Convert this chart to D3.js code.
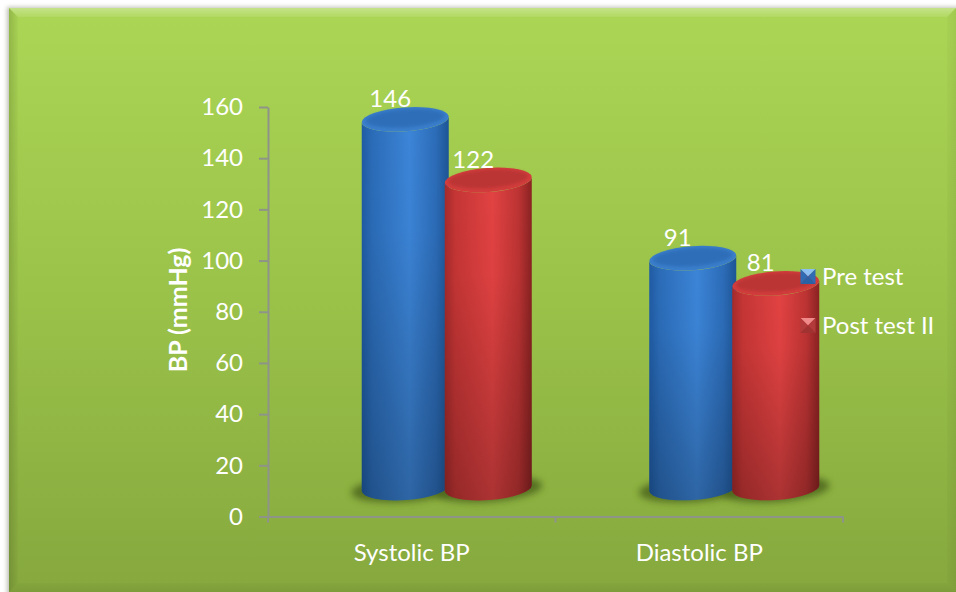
<!DOCTYPE html>
<html>
<head>
<meta charset="utf-8">
<script src="https://cdn.jsdelivr.net/npm/d3@7"></script>
<style>
html, body { margin: 0; padding: 0; background: #fff; }
svg { display: block; }
text { font-family: Lato, "Open Sans", sans-serif; fill: #fff; }
</style>
</head>
<body>
<div id="chart"></div>
<script>
var categories = ["Systolic BP", "Diastolic BP"];
var seriesNames = ["Pre test", "Post test II"];
var preTest = [146, 91];
var postTest = [122, 81];
var yTicks = [0, 20, 40, 60, 80, 100, 120, 140, 160];

var W = 956, H = 592;

var svg = d3.select("#chart").append("svg")
    .attr("width", W)
    .attr("height", H);

var defs = svg.append("defs");

function gradient(id, x2, y2, stops) {
    var g = defs.append("linearGradient")
        .attr("id", id)
        .attr("x1", 0).attr("y1", 0)
        .attr("x2", x2).attr("y2", y2);
    stops.forEach(function(s) {
        g.append("stop")
            .attr("offset", s[0])
            .attr("stop-color", s[1])
            .attr("stop-opacity", s[2] === undefined ? 1 : s[2]);
    });
}

gradient("panelFill", 0, 1, [[0, "#abd655"], [0.5, "#9ac249"], [1, "#86a83e"]]);
gradient("bevelTop", 0, 1, [[0, "#fff", 0.3], [1, "#fff", 0.08]]);
gradient("bevelLeft", 1, 0, [[0, "#000", 0.14], [1, "#000", 0.02]]);
gradient("bevelRight", 1, 0, [[0, "#000", 0.02], [1, "#000", 0.06]]);
gradient("bevelBottom", 0, 1, [[0, "#000", 0.02], [1, "#000", 0.07]]);

// side shading of each cylinder, dark at both edges
gradient("sideBlue", 1, 0, [[0, "#1f5ba3"], [0.12, "#2b6cb8"], [0.55, "#3c85d8"], [0.85, "#2c6cb8"], [1, "#1d5595"]]);
gradient("sideRed", 1, 0, [[0, "#a52a2a"], [0.12, "#c53535"], [0.55, "#e24242"], [0.85, "#bd3333"], [1, "#8a2222"]]);
gradient("sideFade", 0, 1, [[0, "#000", 0], [0.3, "#000", 0.02], [1, "#000", 0.24]]);

var blur = defs.append("filter").attr("id", "soft")
    .attr("x", "-30%").attr("y", "-60%").attr("width", "160%").attr("height", "220%");
blur.append("feGaussianBlur").attr("stdDeviation", 3.5);
var blurSmall = defs.append("filter").attr("id", "softer")
    .attr("x", "-20%").attr("y", "-40%").attr("width", "140%").attr("height", "180%");
blurSmall.append("feGaussianBlur").attr("stdDeviation", 1.8);
var blurEdge = defs.append("filter").attr("id", "edge")
    .attr("x", "-5%").attr("y", "-5%").attr("width", "110%").attr("height", "110%");
blurEdge.append("feGaussianBlur").attr("stdDeviation", 2);

// background panel with bevelled edges
var px0 = 9, py0 = 8, bevel = 9;
svg.append("rect")
    .attr("x", px0 - 2).attr("y", py0 - 1)
    .attr("width", W).attr("height", H)
    .attr("fill", "#6f6f60").attr("opacity", 0.45)
    .attr("filter", "url(#edge)");
svg.append("rect")
    .attr("x", px0).attr("y", py0)
    .attr("width", W - px0).attr("height", H - py0)
    .attr("fill", "url(#panelFill)");

var bevels = [
    ["bevelTop", [[px0, py0], [W, py0], [W - bevel, py0 + bevel], [px0 + bevel, py0 + bevel]]],
    ["bevelLeft", [[px0, py0], [px0 + bevel, py0 + bevel], [px0 + bevel, H - bevel], [px0, H]]],
    ["bevelRight", [[W, py0], [W, H], [W - bevel, H - bevel], [W - bevel, py0 + bevel]]],
    ["bevelBottom", [[px0, H], [px0 + bevel, H - bevel], [W - bevel, H - bevel], [W, H]]]
];
svg.selectAll(".bevel")
    .data(bevels)
    .enter().append("polygon")
    .attr("class", "bevel")
    .attr("points", function(d) { return d[1].join(" "); })
    .attr("fill", function(d) { return "url(#" + d[0] + ")"; });

var plotLeft = 268, plotRight = 843, plotTop = 107, plotBottom = 516.5;

var x = d3.scaleBand().domain(categories).range([plotLeft, plotRight]);
var y = d3.scaleLinear().domain([0, 160]).range([plotBottom, plotTop]);

// cylinders stand on a floor set back from the axes
var depthX = 35;
var yBar = d3.scaleLinear().domain([0, 160]).range([488, 84]);
var xSeries = d3.scaleBand().domain(seriesNames).range([-83, 83]);

// axes
var yAxis = svg.append("g")
    .attr("transform", "translate(" + plotLeft + ",0)")
    .call(d3.axisLeft(y).tickValues(yTicks).tickSize(9).tickSizeOuter(0).tickPadding(16));
var xAxis = svg.append("g")
    .attr("transform", "translate(0," + plotBottom + ")")
    .call(d3.axisBottom(x).tickSize(0).tickPadding(27));
xAxis.selectAll(".tick line").remove();
xAxis.selectAll(".divider")
    .data([plotLeft, (plotLeft + plotRight) / 2, plotRight])
    .enter().append("line")
    .attr("class", "divider")
    .attr("x1", function(d) { return d; })
    .attr("x2", function(d) { return d; })
    .attr("y1", 0).attr("y2", 6);

[yAxis, xAxis].forEach(function(a) {
    a.selectAll("path, line").attr("stroke", "#8e9488").attr("stroke-width", 2);
    a.selectAll("text").attr("font-size", 24).style("font-family", "Lato").attr("fill", "#fff");
});

svg.append("text")
    .attr("transform", "translate(187,310) rotate(-90)")
    .attr("text-anchor", "middle")
    .attr("font-size", 25)
    .attr("font-weight", "bold")
    .text("BP (mmHg)");

// flatten to one record per cylinder, pre test first so post test sits over it
var cylinders = [];
[preTest, postTest].forEach(function(values, s) {
    values.forEach(function(v, c) {
        cylinders.push({ category: categories[c], series: seriesNames[s], value: v, blue: s === 0 });
    });
});

var rx = 43.5, ry = 12, tilt = -4;
var dy = rx * Math.sin(-tilt * Math.PI / 180);

function cx(d) {
    return x(d.category) + x.bandwidth() / 2 + depthX + xSeries(d.series) + xSeries.bandwidth() / 2;
}

function sidePath(d) {
    var c = cx(d), top = yBar(d.value), base = yBar(0);
    return "M" + (c - rx) + "," + (top + dy) +
        "L" + (c - rx) + "," + (base + dy) +
        "A" + rx + "," + ry + " " + tilt + " 0 0 " + (c + rx) + "," + (base - dy) +
        "L" + (c + rx) + "," + (top - dy) +
        "A" + rx + "," + ry + " " + tilt + " 0 1 " + (c - rx) + "," + (top + dy) + "Z";
}

function ellipseAt(sel, rxx, ryy, shift) {
    sel.attr("rx", rxx).attr("ry", ryy)
        .attr("transform", function(d) {
            return "translate(" + cx(d) + "," + (yBar(d.value) + shift) + ") rotate(" + tilt + ")";
        });
}

// floor shadows
svg.append("g").selectAll("ellipse")
    .data(cylinders)
    .enter().append("ellipse")
    .attr("rx", 54).attr("ry", 13)
    .attr("transform", function(d) {
        return "translate(" + cx(d) + "," + (yBar(0) + 1) + ") rotate(" + tilt + ")";
    })
    .attr("fill", "#4c651a")
    .attr("opacity", 0.85)
    .attr("filter", "url(#soft)");

var bars = svg.append("g").selectAll("g")
    .data(cylinders)
    .enter().append("g");

bars.append("path")
    .attr("d", sidePath)
    .attr("fill", function(d) { return d.blue ? "url(#sideBlue)" : "url(#sideRed)"; });
bars.append("path")
    .attr("d", sidePath)
    .attr("fill", "url(#sideFade)");

// top cap: bright rim with a darker recessed centre
bars.append("ellipse")
    .call(ellipseAt, rx, ry, 0)
    .attr("fill", function(d) { return d.blue ? "#3a7ecb" : "#d23c3c"; });
bars.append("ellipse")
    .call(ellipseAt, rx - 4, ry - 3, -1)
    .attr("fill", function(d) { return d.blue ? "#2e6eb9" : "#bb3434"; })
    .attr("filter", "url(#softer)");

// value labels sit just above each cap, left of centre
svg.append("g").selectAll("text")
    .data(cylinders)
    .enter().append("text")
    .attr("x", function(d) { return cx(d) - 15; })
    .attr("y", function(d) { return yBar(d.value) - ry; })
    .attr("text-anchor", "middle")
    .attr("font-size", 24)
    .text(function(d) { return d.value; });

// legend
var legendY = d3.scaleBand().domain(seriesNames).range([252, 350]);
var legend = svg.append("g").selectAll("g")
    .data(seriesNames)
    .enter().append("g")
    .attr("transform", function(d) {
        return "translate(808," + (legendY(d) + legendY.bandwidth() / 2) + ")";
    });

var s = 7.5;
var facets = [
    { points: [[-s, -s], [s, -s], [0, 0]], blue: "#8cc0f2", red: "#f08a8a" },
    { points: [[-s, -s], [0, 0], [-s, s]], blue: "#2f6cb4", red: "#b23a3a" },
    { points: [[s, -s], [s, s], [0, 0]], blue: "#2f6cb4", red: "#b23a3a" },
    { points: [[-s, s], [0, 0], [s, s]], blue: "#2a62a6", red: "#a03232" }
];
legend.each(function(name, i) {
    d3.select(this).selectAll("polygon")
        .data(facets)
        .enter().append("polygon")
        .attr("points", function(f) { return f.points.join(" "); })
        .attr("fill", function(f) { return i === 0 ? f.blue : f.red; });
});
legend.append("text")
    .attr("x", 14)
    .attr("dy", "0.36em")
    .attr("font-size", 24)
    .text(function(d) { return d; });
</script>
</body>
</html>
